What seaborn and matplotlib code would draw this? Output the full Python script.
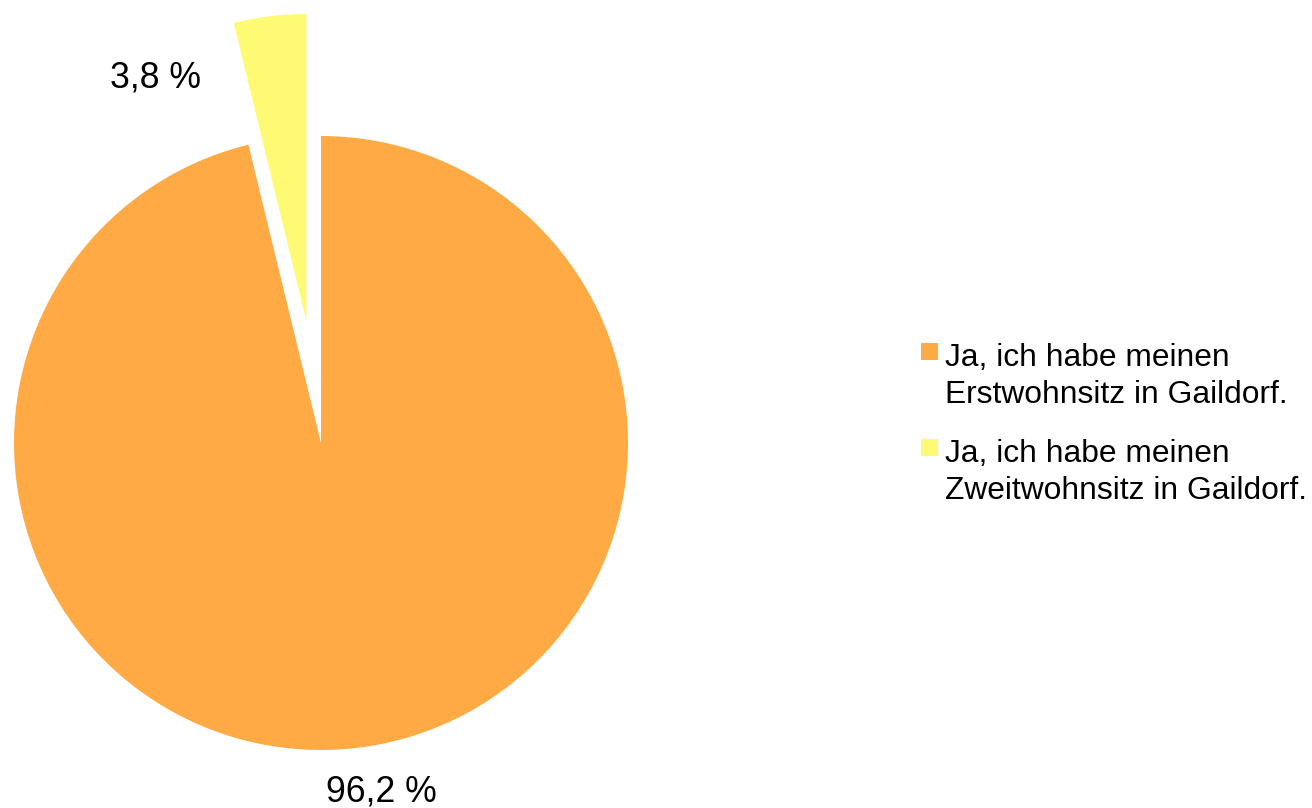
import matplotlib
matplotlib.use("Agg")
import matplotlib.pyplot as plt
import seaborn as sns
from matplotlib.patches import Rectangle

# Data
categories = ["Ja, ich habe meinen\nErstwohnsitz in Gaildorf.",
              "Ja, ich habe meinen\nZweitwohnsitz in Gaildorf."]
values = [96.2, 3.8]
colors = ["#FFAA44", "#FFFA74"]
explode = [0.0, 0.40]

sns.set_style("white")
plt.rcParams['font.family'] = ['Liberation Sans', 'DejaVu Sans']

W, H = 1312, 808
fig = plt.figure(figsize=(W / 100, H / 100), dpi=100)
ax = fig.add_axes([0, 0, 1, 1])

cx, cy, r = 321, H - 443, 307
ax.pie(values, colors=colors, explode=[e * r for e in explode], startangle=90,
       counterclock=False, center=(cx, cy), radius=r,
       wedgeprops=dict(linewidth=0, antialiased=True), frame=False)
ax.set_xlim(0, W)
ax.set_ylim(0, H)
ax.set_aspect('equal')
ax.axis('off')

def fmt(v):
    return f"{v:.1f}".replace('.', ',') + " %"

# percentage labels
label_pos = [(381, 801), (155, 87)]
for v, (x, y) in zip(values, label_pos):
    ax.text(x, H - y, fmt(v), ha='center', va='baseline', fontsize=25.7, color='black')

# legend (manual)
leg_x_text = 945
entries_top = [366, 462]
for cat, col, base in zip(categories, colors, entries_top):
    ax.add_patch(Rectangle((921, H - base + 6), 17, 17, facecolor=col, edgecolor='none'))
    for i, line in enumerate(cat.split("\n")):
        ax.text(leg_x_text, H - (base + i * 37), line, ha='left', va='baseline',
                fontsize=22.9, color='black')

fig.savefig("out.png", dpi=100, facecolor='white')
